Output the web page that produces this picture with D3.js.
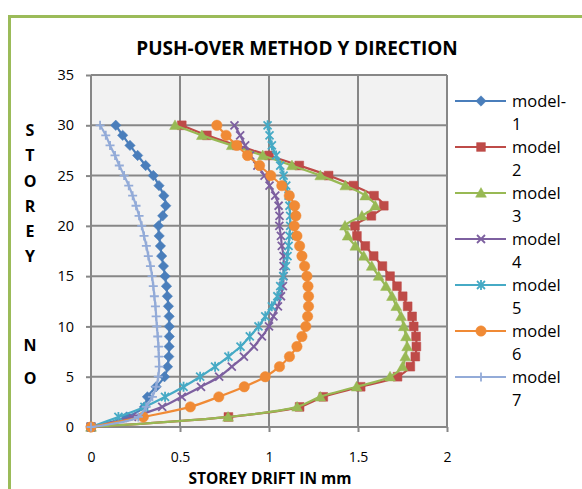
<!DOCTYPE html>
<html>
<head>
<meta charset="utf-8">
<script src="https://cdn.jsdelivr.net/npm/d3@7"></script>
<style>
  body { margin: 0; background: #fff; }
  svg { display: block; }
  text { font-family: "Open Sans", "Noto Sans", sans-serif; fill: #000; }
</style>
</head>
<body>
<svg id="chart" width="582" height="489"></svg>
<script>
// Storey numbers (vertical axis) and storey drift per model (mm)
const storeys = [0,1,2,3,4,5,6,7,8,9,10,11,12,13,14,15,16,17,18,19,20,21,22,23,24,25,26,27,28,29,30];

const model1 = [0,0.20,0.30,0.317,0.366,0.413,0.430,0.437,0.439,0.440,0.440,0.439,0.435,0.429,0.424,0.416,0.407,0.397,0.390,0.383,0.379,0.403,0.420,0.409,0.382,0.350,0.307,0.262,0.219,0.178,0.139];
const model2 = [0,0.772,1.172,1.305,1.515,1.722,1.794,1.822,1.828,1.826,1.813,1.804,1.779,1.751,1.719,1.680,1.637,1.588,1.541,1.494,1.483,1.575,1.645,1.590,1.475,1.335,1.170,1.000,0.820,0.651,0.510];
const model3 = [0,0.770,1.158,1.288,1.492,1.680,1.750,1.766,1.776,1.770,1.757,1.742,1.715,1.691,1.657,1.616,1.577,1.532,1.485,1.442,1.427,1.522,1.597,1.541,1.429,1.288,1.129,0.965,0.791,0.623,0.472];
const model4 = [0,0.230,0.400,0.510,0.618,0.720,0.791,0.859,0.915,0.960,1.000,1.025,1.050,1.067,1.078,1.082,1.082,1.082,1.072,1.067,1.058,1.059,1.054,1.035,1.003,0.975,0.935,0.894,0.866,0.838,0.806];
const model5 = [0,0.154,0.300,0.416,0.520,0.613,0.697,0.772,0.840,0.892,0.941,0.979,1.016,1.047,1.063,1.080,1.095,1.104,1.110,1.115,1.119,1.119,1.115,1.110,1.097,1.082,1.063,1.040,1.016,1.003,0.992];
const model6 = [0,0.294,0.558,0.718,0.861,0.979,1.059,1.115,1.157,1.185,1.207,1.217,1.222,1.222,1.219,1.213,1.200,1.185,1.172,1.157,1.142,1.151,1.144,1.114,1.072,1.010,0.947,0.879,0.819,0.759,0.707];
const model7 = [0,0.266,0.310,0.345,0.366,0.378,0.383,0.381,0.379,0.375,0.370,0.366,0.362,0.356,0.350,0.343,0.334,0.322,0.311,0.298,0.285,0.270,0.253,0.234,0.212,0.186,0.159,0.135,0.107,0.083,0.051];

const seriesNames = ["model-1", "model 2", "model 3", "model 4", "model 5", "model 6", "model 7"];
const legendLines = [["model-", "1"], ["model", "2"], ["model", "3"], ["model", "4"], ["model", "5"], ["model", "6"], ["model", "7"]];
const xTicks = [0, 0.5, 1, 1.5, 2];
const yTicks = [0, 5, 10, 15, 20, 25, 30, 35];
const titleText = "PUSH-OVER METHOD Y DIRECTION";
const xTitle = "STOREY DRIFT IN mm";
const yTitleTop = "STOREY";
const yTitleBottom = "NO";

const colors = ["#4A7EBB", "#BE4B48", "#98B954", "#7D60A0", "#46AAC5", "#F08A35", "#93ABD8"];
const markers = ["diamond", "square", "triangle", "x", "star", "circle", "plus"];

const svg = d3.select("#chart");

// chart area frame
svg.append("path")
  .attr("d", "M9.5,489 V16.5 H582")
  .attr("fill", "none")
  .attr("stroke", "#9BBB59")
  .attr("stroke-width", 3);

const x = d3.scaleLinear().domain([0, 2]).range([91, 447]);
const y = d3.scaleLinear().domain([0, 35]).range([427, 75]);

// plot area
svg.append("rect")
  .attr("x", x(0)).attr("y", y(35))
  .attr("width", x(2) - x(0)).attr("height", y(0) - y(35))
  .attr("fill", "#F2F2F2");

const gridColor = "#878787";
const grid = svg.append("g");
grid.selectAll("line.v").data(xTicks).join("line")
  .attr("x1", d => x(d)).attr("x2", d => x(d))
  .attr("y1", y(35)).attr("y2", y(0))
  .attr("stroke", gridColor).attr("stroke-width", 2);
grid.selectAll("line.h").data(yTicks).join("line")
  .attr("x1", x(0)).attr("x2", x(2))
  .attr("y1", d => y(d)).attr("y2", d => y(d))
  .attr("stroke", gridColor).attr("stroke-width", 2);

// axes
const yAxis = svg.append("g")
  .attr("transform", `translate(${x(0)},0)`)
  .call(d3.axisLeft(y).tickValues(yTicks).tickSize(5).tickPadding(12).tickFormat(d3.format("d")));
const xAxis = svg.append("g")
  .attr("transform", `translate(0,${y(0)})`)
  .call(d3.axisBottom(x).tickValues(xTicks).tickSize(5).tickPadding(20).tickFormat(d => String(d)));
[yAxis, xAxis].forEach(a => {
  a.select(".domain").remove();
  a.selectAll(".tick line").attr("stroke", gridColor).attr("stroke-width", 2);
  a.selectAll(".tick text").attr("font-size", 14.5).attr("fill", "#000")
    .style("font-family", '"Open Sans", sans-serif');
});
xAxis.selectAll(".tick text").attr("font-size", 14);

// marker shapes
function markerPath(kind) {
  switch (kind) {
    case "diamond": return "M0,-5.2L5.2,0L0,5.2L-5.2,0Z";
    case "square": return "M-4.4,-4.4H4.4V4.4H-4.4Z";
    case "triangle": return "M0,-5.4L5.4,4.2L-5.4,4.2Z";
    case "circle": return "M5.2,0A5.2,5.2 0 1,1 -5.2,0A5.2,5.2 0 1,1 5.2,0Z";
    case "x": return "M-4,-4L4,4M-4,4L4,-4";
    case "star": return "M-4,-4L4,4M-4,4L4,-4M0,-5L0,5";
    case "plus": return "M-4.5,0H4.5M0,-4.5V4.5";
  }
}
const stroked = k => k === "x" || k === "star" || k === "plus";

const allSeries = [model1, model2, model3, model4, model5, model6, model7];
const line = d3.line()
  .x(d => x(d[0])).y(d => y(d[1]))
  .curve(d3.curveCatmullRom.alpha(0.5));

allSeries.forEach((vals, i) => {
  const pts = vals.map((v, j) => [v, storeys[j]]);
  const g = svg.append("g").attr("class", "series").attr("data-name", seriesNames[i]);
  g.append("path")
    .attr("d", line(pts))
    .attr("fill", "none")
    .attr("stroke", colors[i])
    .attr("stroke-width", 2.2);
  g.selectAll("path.m").data(pts).join("path")
    .attr("class", "m")
    .attr("transform", d => `translate(${x(d[0])},${y(d[1])})`)
    .attr("d", markerPath(markers[i]))
    .attr("fill", stroked(markers[i]) ? "none" : colors[i])
    .attr("stroke", colors[i])
    .attr("stroke-width", stroked(markers[i]) ? 1.8 : 0.5);
});

// legend
const legend = svg.append("g").attr("transform", "translate(455,101)");
legendLines.forEach((lines, i) => {
  const row = legend.append("g").attr("transform", `translate(0,${i * 46})`);
  row.append("line").attr("x1", 0).attr("x2", 51).attr("y1", 0).attr("y2", 0)
    .attr("stroke", colors[i]).attr("stroke-width", 2.2);
  row.append("path")
    .attr("transform", "translate(26,0)")
    .attr("d", markerPath(markers[i]))
    .attr("fill", stroked(markers[i]) ? "none" : colors[i])
    .attr("stroke", colors[i])
    .attr("stroke-width", stroked(markers[i]) ? 1.8 : 0.5);
  lines.forEach((t, k) => {
    row.append("text").attr("x", 57).attr("y", k * 23).attr("dy", "0.36em")
      .attr("font-size", 16.5).text(t);
  });
});

// titles
svg.append("text")
  .attr("x", 297).attr("y", 48).attr("dy", "0.36em")
  .attr("text-anchor", "middle").attr("font-size", 19).attr("font-weight", "bold")
  .text(titleText);
svg.append("text")
  .attr("x", 270).attr("y", 478.5).attr("dy", "0.36em")
  .attr("text-anchor", "middle").attr("font-size", 15.5).attr("font-weight", "bold")
  .text(xTitle);

const yTitleTopPos = [130, 155.5, 181, 206, 231, 256.5];
const yTitleBottomPos = [345, 378];
yTitleTop.split("").forEach((c, i) => {
  svg.append("text").attr("x", 30).attr("y", yTitleTopPos[i]).attr("dy", "0.36em")
    .attr("text-anchor", "middle").attr("font-size", 16).attr("font-weight", "bold").text(c);
});
yTitleBottom.split("").forEach((c, i) => {
  svg.append("text").attr("x", 30).attr("y", yTitleBottomPos[i]).attr("dy", "0.36em")
    .attr("text-anchor", "middle").attr("font-size", 16).attr("font-weight", "bold").text(c);
});
</script>
</body>
</html>
